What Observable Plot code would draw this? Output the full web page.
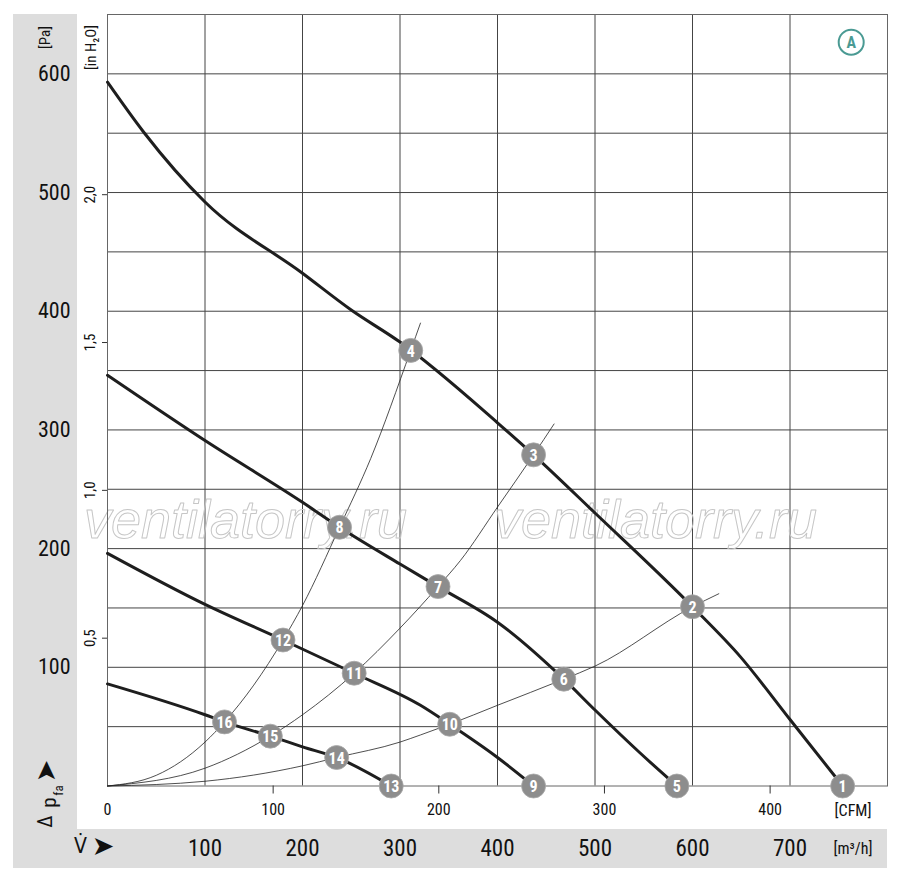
<!DOCTYPE html>
<html><head><meta charset="utf-8">
<script src="https://cdn.jsdelivr.net/npm/d3@7"></script>
<script src="https://cdn.jsdelivr.net/npm/@observablehq/plot@0.6"></script>
<style>body{margin:0;background:#fff} #chart{width:900px;height:883px}</style>
</head><body><div id="chart"></div>
<script>
// ---- data (flow in m³/h, pressure in Pa) ----
const fanCurve1 = [[0,593],[37,551],[100,492],[200,432],[250,401],[300,374],[400,306],[437,279],[500,230],[600,151],[649,109],[700,56],[754,0]];
const fanCurve2 = [[0,346],[100,291],[200,239],[238,218],[300,187],[339,168],[400,138],[468,90],[500,64],[546,28],[584,0]];
const fanCurve3 = [[0,196],[100,153],[180,123],[253,95],[321,68],[351,52],[400,24],[437,0]];
const fanCurve4 = [[0,86],[100,60],[120,54],[167,42],[200,33],[235,24],[291,0]];
const sysCurve1 = [[0,0],[50,9],[100,37],[120,54],[150,85],[180,123],[200,152],[238,218],[270,276],[311,367],[321,390]];
const sysCurve2 = [[0,0],[100,15],[167,42],[200,60],[253,95],[300,133],[339,168],[362,190],[400,235],[437,279],[458,305]];
const sysCurve3 = [[0,0],[100,4],[200,17],[235,24],[300,37],[321,43],[351,52],[400,68],[468,90],[500,101],[600,151],[627,162]];
const pointLabels = [1,2,3,4,5,6,7,8,9,10,11,12,13,14,15,16];
const pointFlow   = [754,600,437,311,584,468,339,238,437,351,253,180,291,235,167,120];
const pointPress  = [0,151,279,367,0,90,168,218,0,52,95,123,0,24,42,54];
const paTicks   = [100,200,300,400,500,600];
const inH2OTicks = [0.5,1.0,1.5,2.0];
const cfmTicks  = [0,100,200,300,400];
const m3hTicks  = [100,200,300,400,500,600,700];
const xGrid = [100,200,300,400,500,600,700];
const yGrid = [50,100,150,200,250,300,350,400,450,500,550,600];

const PA_PER_INH2O = 249.089;
const M3H_PER_CFM = 1.69901;
const FONT = "'Liberation Sans Narrow','Roboto Condensed','DejaVu Sans Condensed','Liberation Sans',sans-serif";

const points = pointLabels.map((n,i)=>({n, q: pointFlow[i], p: pointPress[i]}));
const fans = [fanCurve1, fanCurve2, fanCurve3, fanCurve4];
const systems = [sysCurve1, sysCurve2, sysCurve3];
const C = {textAnchor:"middle", lineAnchor:"middle", fill:"#111"};

const marks = [
  Plot.ruleX(xGrid, {stroke:"#444", strokeWidth:1}),
  Plot.ruleY(yGrid, {stroke:"#444", strokeWidth:1}),
  Plot.text(["ventilatorry.ru"], {...C, frameAnchor:"left", dx:138, dy:120, fontSize:54, fontStyle:"italic", fontFamily:"'Liberation Sans',Arial,sans-serif", fill:"none", stroke:"#c6c6c6", strokeWidth:1}),
  Plot.text(["ventilatorry.ru"], {...C, frameAnchor:"left", dx:548, dy:120, fontSize:54, fontStyle:"italic", fontFamily:"'Liberation Sans',Arial,sans-serif", fill:"none", stroke:"#c6c6c6", strokeWidth:1}),
  Plot.frame({stroke:"#666"}),
  ...systems.map(s => Plot.line(s, {x:d=>d[0], y:d=>d[1], curve:"monotone-x", stroke:"#222", strokeWidth:0.8})),
  ...fans.map(s => Plot.line(s, {x:d=>d[0], y:d=>d[1], curve:"monotone-x", stroke:"#1e1e1e", strokeWidth:3})),
  Plot.dot(points, {x:"q", y:"p", r:12, fill:"#8d8d8d", stroke:"#a8a8a8", strokeWidth:0.8}),
  Plot.text(points, {x:"q", y:"p", text:"n", fill:"white", fontWeight:"bold", fontSize:16, dy:1}),
  // Pa axis labels
  Plot.text(paTicks, {y:d=>d, frameAnchor:"left", dx:-37, textAnchor:"end", lineAnchor:"middle", fontSize:22, fill:"#111"}),
  // inH2O axis
  Plot.axisY(inH2OTicks.map(v=>v*PA_PER_INH2O), {tickSize:5, tickFormat:()=>"", stroke:"#333", label:null}),
  Plot.text(inH2OTicks, {...C, y:d=>d*PA_PER_INH2O, frameAnchor:"left", dx:-17, rotate:-90, fontSize:15, text:d=>d.toFixed(1).replace(".",",")}),
  // CFM axis
  Plot.axisX(cfmTicks.filter(c=>c>0).map(c=>c*M3H_PER_CFM), {tickSize:8, tickFormat:()=>"", stroke:"#333", label:null}),
  Plot.text(cfmTicks, {...C, x:d=>d*M3H_PER_CFM, frameAnchor:"bottom", dy:24, fontSize:16, text:d=>String(d)}),
  Plot.text(["[CFM]"], {...C, frameAnchor:"bottom-right", dx:-34.5, dy:24.5, fontSize:16}),
  // m3/h axis
  Plot.text(m3hTicks, {...C, x:d=>d, frameAnchor:"bottom", dy:62.5, fontSize:23, text:d=>String(d)}),
  Plot.text(["[m³/h]"], {...C, frameAnchor:"bottom-right", dx:-34.5, dy:63, fontSize:16}),
  // axis titles
  Plot.text(["[Pa]"], {...C, frameAnchor:"top-left", dx:-62, dy:23, rotate:-90, fontSize:15}),
  Plot.text(["[in H₂O]"], {...C, frameAnchor:"top-left", dx:-16, dy:33, rotate:-90, fontSize:15}),
  Plot.text(["Δ"], {...C, frameAnchor:"bottom-left", dx:-62, dy:35.5, rotate:-90, fontSize:20}),
  Plot.text(["p"], {...C, frameAnchor:"bottom-left", dx:-58, dy:16.5, rotate:-90, fontSize:21}),
  Plot.text(["fa"], {...C, frameAnchor:"bottom-left", dx:-48.5, dy:4.5, rotate:-90, fontSize:13}),
  Plot.text(["➤"], {...C, frameAnchor:"bottom-left", dx:-61, dy:-15, rotate:-90, fontSize:27, fontFamily:"'DejaVu Sans',sans-serif"}),
  Plot.text(["V̇"], {...C, frameAnchor:"bottom-left", dx:-27, dy:60.5, fontSize:21}),
  Plot.text(["➤"], {...C, frameAnchor:"bottom-left", dx:-4.5, dy:60.5, fontSize:27, fontFamily:"'DejaVu Sans',sans-serif"}),
  // "A" badge
  Plot.dot([0], {frameAnchor:"top-right", dx:-36.3, dy:27.7, r:12.5, fill:"white", stroke:"#4a9a93", strokeWidth:2}),
  Plot.text(["A"], {...C, frameAnchor:"top-right", dx:-36.3, dy:28, fontSize:16, fontWeight:"bold", fill:"#4a9a93"})
];

const chart = Plot.plot({
  width: 900, height: 883,
  marginLeft: 107, marginRight: 13, marginTop: 14, marginBottom: 97.5,
  x: {domain:[0,800], label:null},
  y: {domain:[0,650], label:null},
  style: {fontFamily: FONT, background: "transparent", overflow: "visible"},
  marks
});

// decorative grey bands behind everything
const svg = d3.select(chart);
svg.insert("rect", ":first-child").attr("x",13).attr("y",829).attr("width",874).attr("height",39).attr("fill","#dddddd");
svg.insert("rect", ":first-child").attr("x",13).attr("y",14).attr("width",64).attr("height",854).attr("fill","#dddddd");
svg.insert("rect", ":first-child").attr("x",0).attr("y",0).attr("width",900).attr("height",883).attr("fill","#ffffff");
document.getElementById("chart").appendChild(chart);
</script></body></html>
